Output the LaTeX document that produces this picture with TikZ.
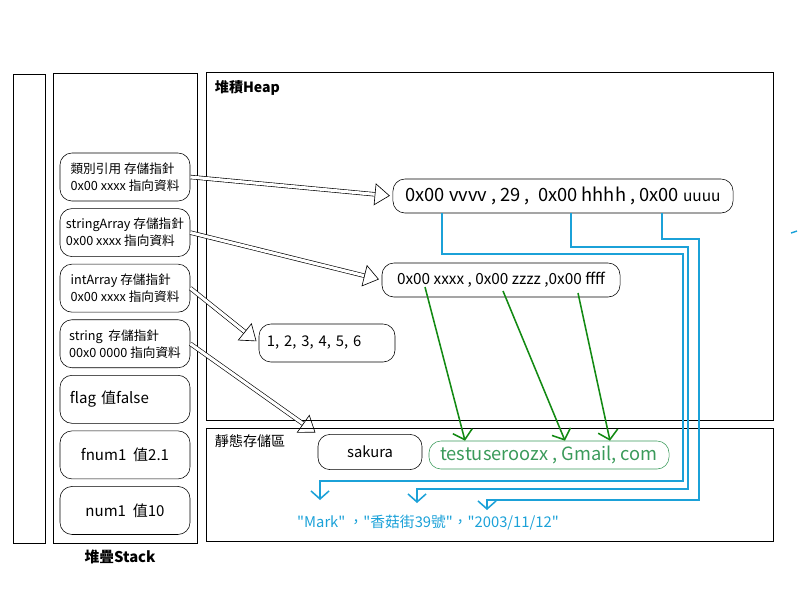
\documentclass[tikz,border=0pt]{standalone}
\usepackage{fontspec}
\setmainfont{Noto Sans CJK TC}
\newfontfamily\valfont{Noto Sans CJK TC}
\usetikzlibrary{arrows.meta, positioning, calc}
\definecolor{ptrblue}{HTML}{1BA1D8}
\definecolor{refgreen}{HTML}{138A13}
\definecolor{boxgreen}{HTML}{3A9A5A}

\begin{document}
\begin{tikzpicture}[
  x=0.025cm, y=-0.025cm,
  node distance=0.175cm,
  frame/.style={draw, line width=0.7pt},
  slot/.style={rectangle, draw, rounded corners=0.3cm, minimum width=3.25cm, minimum height=1.2cm, align=left, font=\fontsize{9}{12}\selectfont},
  valslot/.style={slot, font=\fontsize{10.7}{12}\selectfont},
  cell/.style={rectangle, draw, rounded corners=0.3cm, align=center},
  dptr/.style={double, double distance=2.2pt, line width=0.45pt, shorten >=2pt, -{Triangle[open, length=3.8mm, width=5.5mm]}},
  gptr/.style={refgreen, line width=1.1pt, -{Straight Barb[length=2.2mm, width=5mm]}},
  bptr/.style={ptrblue, line width=1.1pt, -{Straight Barb[length=2mm, width=4.5mm]}}
]
  \useasboundingbox (0,0) rectangle (800,600);

  % frames
  \draw[frame] (13,74) rectangle (45,543);
  \draw[frame] (53,73) rectangle (197,543);
  \draw[frame] (206,72) rectangle (773,420);
  \draw[frame] (206,428) rectangle (773,541);
  \node[anchor=west, font=\bfseries\fontsize{10}{12}\selectfont] (heaplbl) at (210,88) {堆積Heap};
  \node[anchor=west, font=\fontsize{10}{12}\selectfont] (statlbl) at (210,441) {靜態存儲區};
  \node[font=\bfseries\fontsize{10.5}{12}\selectfont] (stacklbl) at (120,557) {堆疊Stack};

  % stack
  \node[slot] (ref1) at (125,177) {類別引用 存儲指針\\0x00 xxxx 指向資料};
  \node[slot, below=of ref1] (ref2) {stringArray 存儲指針\\0x00 xxxx 指向資料};
  \node[slot, below=of ref2] (ref3) {intArray 存儲指針\\0x00 xxxx 指向資料};
  \node[slot, below=of ref3] (ref4) {string\ \ 存儲指針\\00x0 0000 指向資料};
  \node[valslot, below=of ref4, text width=2.75cm] (flag) {flag 值false};
  \node[valslot, below=of flag] (fnum) {fnum1\ \ 值2.1};
  \node[valslot, below=of fnum] (num) {num1\ \ 值10};

  % heap
  \node[cell, minimum width=8.5cm, minimum height=0.85cm, font=\fontsize{13}{14}\selectfont] (obj) at (563,196) {0x00 vvvv , 29 ,\ \ 0x00 hhhh , 0x00 {\fontsize{11}{12}\selectfont uuuu}};
  \node[cell, minimum width=5.95cm, minimum height=0.85cm, font=\fontsize{10.9}{12}\selectfont] (strarr) at (501,280) {0x00 xxxx , 0x00 zzzz ,0x00 ffff};
  \node[cell, minimum width=3.4cm, minimum height=0.95cm, font=\fontsize{10.5}{12}\selectfont, text width=3cm, align=left] (intarr) at (327,343) {1, 2, 3, 4, 5, 6};

  % static area
  \node[cell, minimum width=2.6cm, minimum height=0.88cm, font=\fontsize{10.5}{12}\selectfont] (sakura) at (370,452) {sakura};
  \node[cell, draw=boxgreen, text=boxgreen, minimum width=6cm, minimum height=0.7cm, font=\fontsize{13}{14}\selectfont] (mail) at (549,455) {testuseroozx , Gmail, com};
  \node[text=ptrblue, font=\valfont\fontsize{10.5}{12}\selectfont] (vals) at (428,523) {"Mark" ，"香菇街39號"，"2003/11/12"};

  % pointers from the stack
  \draw[dptr] (ref1.east) -- (obj.west);
  \draw[dptr] (ref2.east) -- (strarr.west);
  \draw[dptr] (ref3.east) -- (intarr.west);
  \draw[dptr] (ref4.east) -- (sakura.north west);

  % string array to mail parts
  \coordinate (s1) at (425,287);
  \coordinate (s2) at (503,291);
  \coordinate (s3) at (578,293);
  \draw[gptr] (s1) -- (mail.north west -| 465,0);
  \draw[gptr] (s2) -- (mail.north west -| 565,0);
  \draw[gptr] (s3) -- (mail.north west -| 610,0);

  % object fields to values
  \coordinate (f1) at (442,213);
  \coordinate (f2) at (571,213);
  \coordinate (f3) at (662,213);
  \coordinate (v1) at (320,500);
  \coordinate (v2) at (417,503);
  \coordinate (v3) at (487,510);
  \draw[bptr] (f1) |- (683,254) |- (320,481) -- (v1);
  \draw[bptr] (f2) |- (688,247) |- (417,489) -- (v2);
  \draw[bptr] (f3) |- (699,239) |- (487,500) -- (v3);

  \coordinate (dashA) at (791,233);
  \coordinate (dashB) at (797,231);
  \draw[ptrblue, line width=1pt] (dashA) -- (dashB);
\end{tikzpicture}
\end{document}
